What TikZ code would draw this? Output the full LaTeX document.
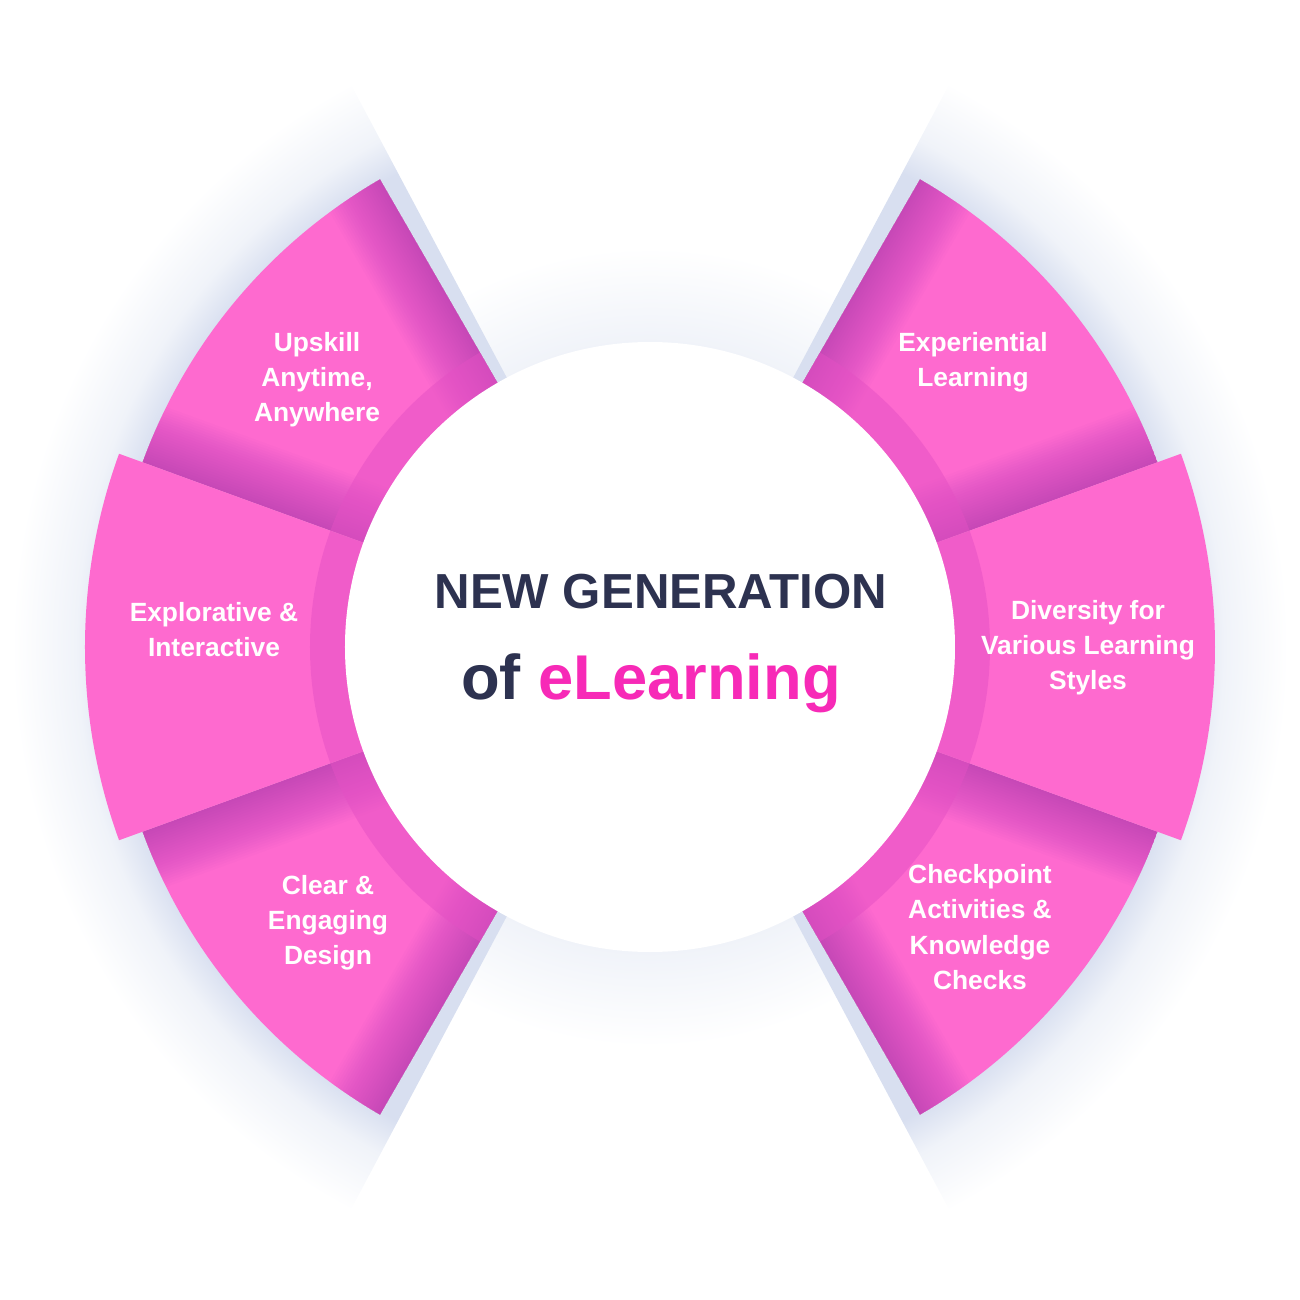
\documentclass[tikz,border=0pt]{standalone}
\usepackage{fontspec}
\setmainfont{Liberation Sans}
\definecolor{petalpink}{RGB}{254,106,207}
\definecolor{petalshade}{RGB}{150,45,165}
\definecolor{ringpink}{RGB}{228,80,196}
\definecolor{titlenavy}{RGB}{45,50,80}
\definecolor{brandpink}{RGB}{247,42,183}
\definecolor{haloblue}{RGB}{216,223,240}
\definecolor{halolight}{RGB}{240,243,249}
\pgfdeclareradialshading{halo}{\pgfpointorigin}{color(0bp)=(haloblue); color(18.5bp)=(haloblue); color(19.8bp)=(halolight); color(22bp)=(white); color(50bp)=(white)}
\pgfdeclareradialshading{hubhalo}{\pgfpointorigin}{color(0bp)=(halolight); color(19bp)=(halolight); color(25bp)=(white); color(50bp)=(white)}

\begin{document}
\begin{tikzpicture}[
    petal/.style={fill=petalpink},
    petaltext/.style={text=white, align=center, font=\bfseries\fontsize{15}{20}\selectfont},
    hub/.style={circle, fill=white, minimum size=12.2cm, inner sep=0pt}
  ]
  \useasboundingbox (-13,-13.06) rectangle (13,12.94);

  % soft shadows round the petals and the hub
  \shade[shading=hubhalo] (0,0) circle (8);
  \begin{scope}
    \clip (0,0) -- (118:14) arc[start angle=118, end angle=242, radius=14] -- cycle;
    \shade[shading=halo] (0,0) circle (14.5);
  \end{scope}
  \begin{scope}
    \clip (0,0) -- (-62:14) arc[start angle=-62, end angle=62, radius=14] -- cycle;
    \shade[shading=halo] (0,0) circle (14.5);
  \end{scope}

  % upper and lower petals
  \foreach \a/\b/\r in {120/160/10.8, 200/240/10.8, 20/60/10.8, -60/-20/10.8}{
    \begin{scope}
      \clip (\a:5.5) arc[start angle=\a, end angle=\b, radius=5.5]
        -- (\b:\r) arc[start angle=\b, end angle=\a, radius=\r] -- cycle;
      \fill[petal] (0,0) circle (12);
      \foreach \w in {0.1,0.2,...,2.4}
        \draw[petalshade, opacity=0.022, line width=\w cm] (\a:5.5) -- (\a:\r) (\b:5.5) -- (\b:\r);
      \fill[ringpink, opacity=0.5, even odd rule] (0,0) circle (6.8) (0,0) circle (6.1);
    \end{scope}
  }
  % middle petals
  \foreach \a/\b/\r in {160/200/11.3, -20/20/11.3}{
    \begin{scope}
      \clip (\a:5.5) arc[start angle=\a, end angle=\b, radius=5.5]
        -- (\b:\r) arc[start angle=\b, end angle=\a, radius=\r] -- cycle;
      \fill[petal] (0,0) circle (12);
      \fill[ringpink, opacity=0.5, even odd rule] (0,0) circle (6.8) (0,0) circle (6.1);
    \end{scope}
  }

  \node[hub] (hub) at (0,0) {};
  \node[anchor=base, text=titlenavy, font=\bfseries\fontsize{28}{34}\selectfont] (title) at (0.22,0.78) {NEW GENERATION};
  \node[anchor=base, text=titlenavy, font=\bfseries\fontsize{36}{42}\selectfont] (subtitle) at (0.02,-1.04) {of \textcolor{brandpink}{eLearning}};

  \node[petaltext] (upskill) at (-6.66,5.34) {Upskill\\Anytime,\\Anywhere};
  \node[petaltext] (experiential) at (6.46,5.70) {Experiential\\Learning};
  \node[petaltext] (explorative) at (-8.72,0.34) {Explorative \&\\Interactive};
  \node[petaltext] (diversity) at (8.76,-0.02) {Diversity for\\Various Learning\\Styles};
  \node[petaltext] (clear) at (-6.44,-5.52) {Clear \&\\Engaging\\Design};
  \node[petaltext] (checkpoint) at (6.60,-5.60) {Checkpoint\\Activities \&\\Knowledge\\Checks};
\end{tikzpicture}
\end{document}
